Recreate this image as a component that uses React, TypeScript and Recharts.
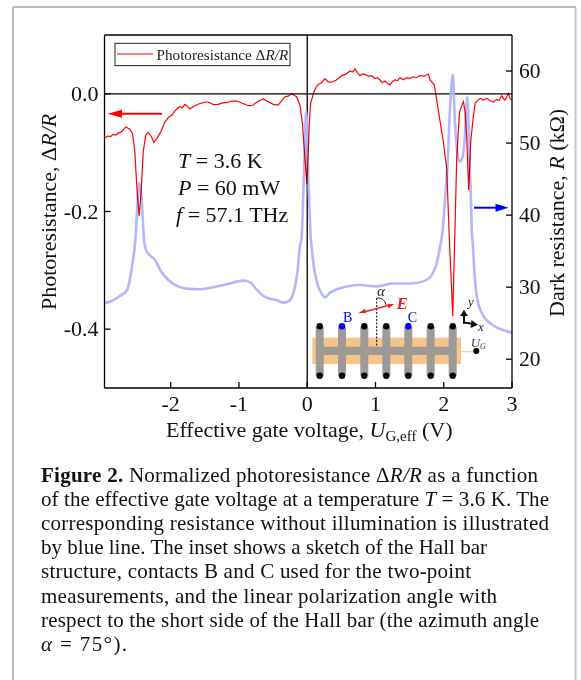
import React from "react";
import {
  LineChart,
  Line,
  XAxis,
  YAxis,
  ReferenceLine,
} from "recharts";

const redVoltage = [
  -2.976, -2.945, -2.918, -2.88, -2.844, -2.81, -2.771, -2.74, -2.707, -2.658, -2.63, -2.6, -2.56, -2.526, -2.492,
  -2.462, -2.433, -2.403, -2.365, -2.331, -2.281, -2.248, -2.2, -2.149, -2.087, -2.05, -2.023, -1.98, -1.94, -1.9,
  -1.867, -1.83, -1.793, -1.76, -1.72, -1.67, -1.622, -1.57, -1.525, -1.48, -1.427, -1.37, -1.305, -1.24, -1.182,
  -1.11, -1.035, -0.96, -0.889, -0.84, -0.791, -0.72, -0.645, -0.57, -0.498, -0.425, -0.38, -0.327, -0.28, -0.229,
  -0.156, -0.107, -0.068, -0.034, -0.004, 0.029, 0.05, 0.098, 0.13, 0.162, 0.21, 0.26, 0.3, 0.333, 0.375, 0.421,
  0.46, 0.504, 0.56, 0.626, 0.665, 0.7, 0.735, 0.773, 0.81, 0.846, 0.9, 0.944, 0.99, 1.03, 1.066, 1.1, 1.14, 1.18,
  1.213, 1.25, 1.286, 1.32, 1.36, 1.41, 1.458, 1.5, 1.555, 1.6, 1.653, 1.71, 1.775, 1.8, 1.862, 1.897, 1.935, 1.994,
  2.043, 2.078, 2.132, 2.166, 2.19, 2.229, 2.249, 2.288, 2.312, 2.337, 2.366, 2.395, 2.425, 2.459, 2.49, 2.532, 2.58,
  2.63, 2.68, 2.727, 2.77, 2.81, 2.85, 2.875, 2.898, 2.925, 2.947, 2.975, 3.0,
];

const redValue = [
  -0.0757, -0.0735, -0.0717, -0.0725, -0.0689, -0.07, -0.0672, -0.0655, -0.0633, -0.0559, -0.058, -0.0599, -0.0672,
  -0.0984, -0.1664, -0.2072, -0.1664, -0.0984, -0.07, -0.0655, -0.0729, -0.0825, -0.0757, -0.0655, -0.0485, -0.0425,
  -0.0389, -0.036, -0.0292, -0.0245, -0.0219, -0.0235, -0.0179, -0.021, -0.0258, -0.0215, -0.019, -0.0165, -0.0151,
  -0.0135, -0.0151, -0.0185, -0.0179, -0.0155, -0.0151, -0.0125, -0.0122, -0.0155, -0.019, -0.0205, -0.019, -0.0125,
  -0.0088, -0.0135, -0.0179, -0.019, -0.0125, -0.0049, -0.004, 0, -0.0049, -0.019, -0.053, -0.11, -0.154, -0.053,
  -0.016, 0.0036, 0.011, 0.016, 0.019, 0.026, 0.021, 0.0195, 0.0205, 0.023, 0.0265, 0.031, 0.033, 0.0388, 0.037,
  0.0422, 0.036, 0.031, 0.034, 0.033, 0.03, 0.031, 0.026, 0.0275, 0.0235, 0.019, 0.0218, 0.017, 0.015, 0.021, 0.0235,
  0.0225, 0.0274, 0.024, 0.0274, 0.026, 0.029, 0.0275, 0.031, 0.03, 0.0337, 0.0235, 0.015, -0.0105, -0.039, -0.0814,
  -0.1267, -0.2345, -0.378, -0.2232, -0.11, -0.033, -0.0247, -0.0134, -0.0303, -0.0757, -0.1636, -0.0814, -0.0474,
  -0.0162, -0.012, -0.0077, -0.0105, -0.0077, -0.0115, -0.0145, -0.0095, -0.0115, -0.0032, -0.0085, -0.0105, -0.0045,
  0.0008, -0.0085, -0.0105,
];

const blueVoltage = [
  -2.976, -2.868, -2.746, -2.639, -2.6, -2.56, -2.53, -2.516, -2.49, -2.462, -2.428, -2.39, -2.365, -2.331, -2.233,
  -2.135, -2.036, -1.892, -1.768, -1.573, -1.427, -1.329, -1.133, -0.934, -0.84, -0.742, -0.645, -0.547, -0.449,
  -0.349, -0.279, -0.205, -0.146, -0.107, -0.083, -0.048, -0.015, 0.02, 0.054, 0.079, 0.113, 0.162, 0.211, 0.26,
  0.333, 0.431, 0.578, 0.773, 1.018, 1.261, 1.506, 1.701, 1.824, 1.897, 1.946, 1.985, 2.019, 2.053, 2.092, 2.132,
  2.166, 2.2, 2.229, 2.278, 2.308, 2.346, 2.376, 2.395, 2.41, 2.425, 2.444, 2.484, 2.557, 2.679, 2.826, 3.0,
];

const blueResistance = [
  27.75, 28.08, 28.77, 29.6, 31.0, 33.3, 35.4, 36.8, 41.0, 44.4, 42.3, 36.5, 35.2, 34.7, 33.8, 32.1, 31.0, 30.1, 29.8,
  29.7, 29.9, 30.1, 30.5, 30.9, 30.7, 29.7, 28.8, 28.4, 28.2, 27.85, 28.0, 29.1, 31.9, 35.6, 36.8, 45.7, 54.4, 44.2,
  36.6, 34.2, 31.9, 30.1, 29.1, 28.6, 29.2, 29.7, 30.1, 30.3, 30.1, 30.5, 30.5, 30.8, 31.7, 33.3, 35.6, 37.9, 42.3,
  46.5, 54.8, 59.5, 52.5, 48.6, 47.4, 48.1, 50.7, 56.4, 47.9, 43.2, 37.9, 36.1, 32.8, 28.7, 26.4, 25.0, 24.2, 23.7,
];

const voltageTicks = [-2, -1, 0, 1, 2, 3];
const photoTicks = [0, -0.2, -0.4];
const darkTicks = [20, 30, 40, 50, 60];

const captionLines: { end: number; parts: [string, string?][] }[] = [
  { end: 538, parts: [["Figure 2.", "b"], [" Normalized photoresistance Δ"], ["R/R", "i"], [" as a function"]] },
  { end: 549, parts: [["of the effective gate voltage at a temperature "], ["T", "i"], [" = 3.6 K. The"]] },
  { end: 549, parts: [["corresponding resistance without illumination is illustrated"]] },
  { end: 487, parts: [["by blue line. The inset shows a sketch of the Hall bar"]] },
  { end: 471, parts: [["structure, contacts B and C used for the two-point"]] },
  { end: 497, parts: [["measurements, and the linear polarization angle with"]] },
  { end: 539, parts: [["respect to the short side of the Hall bar (the azimuth angle"]] },
  { end: 127, parts: [["α", "i"], [" = 75°)."]] },
];

const redTable = redVoltage.map((v, i) => ({ v, dr: redValue[i] }));
const blueTable = blueVoltage.map((v, i) => ({ v, r: blueResistance[i] }));

const serif = '"Liberation Serif", "Times New Roman", serif';
const TICK_LEN = 6;

const BottomTick = ({ x, y, payload }: any) => (
  <g>
    <line x1={x} x2={x} y1={y} y2={y - TICK_LEN} stroke="#000" strokeWidth={1.3} />
    <text x={x} y={y + 23} textAnchor="middle" fontSize={22} fontFamily={serif} fill="#111">
      {payload.value}
    </text>
  </g>
);

const LeftTick = ({ x, y, payload }: any) => (
  <g>
    <line x1={x} x2={x + TICK_LEN} y1={y} y2={y} stroke="#000" strokeWidth={1.3} />
    <text x={x - 6} y={y + 7} textAnchor="end" fontSize={22} fontFamily={serif} fill="#111">
      {payload.value.toFixed(1)}
    </text>
  </g>
);

const RightTick = ({ x, y, payload }: any) => (
  <g>
    <line x1={x} x2={x - TICK_LEN} y1={y} y2={y} stroke="#000" strokeWidth={1.3} />
    <text x={x + 7} y={y + 7} textAnchor="start" fontSize={21.5} fontFamily={serif} fill="#111">
      {payload.value}
    </text>
  </g>
);

const barXs = [319.7, 342, 364.3, 386.3, 408.3, 430.7, 452.7];

// Hall bar sketch from the paper, not data
const HallBar = () => (
  <g>
    <rect x={312.3} y={337.7} width={148.7} height={26.3} fill="#f5c48a" />
    <line x1={461} x2={476} y1={351.7} y2={351.7} stroke="#f5c48a" strokeWidth={1} />
    <rect x={316.7} y={346.7} width={136} height={8.3} fill="#9e9b96" />
    {barXs.map((x) => (
      <rect key={x} x={x - 4} y={326.7} width={8} height={49} fill="#9e9b96" />
    ))}
    {barXs.map((x, i) => (
      <g key={x}>
        <circle cx={x} cy={326.3} r={3.2} fill={i === 1 || i === 4 ? "#0000ff" : "#000"} />
        <circle cx={x} cy={375.7} r={3.2} fill="#000" />
      </g>
    ))}
    <text x={343} y={321.7} fontSize={14} fill="#0000ff" fontFamily={serif}>B</text>
    <text x={407.7} y={321.7} fontSize={14} fill="#0000ff" fontFamily={serif}>C</text>
    <line x1={376.7} x2={376.7} y1={298} y2={346.7} stroke="#000" strokeWidth={1} strokeDasharray="2 1.5" />
    <path d="M376.7 298 A8 8 0 0 1 386 305" fill="none" stroke="#222" strokeWidth={1} />
    <text x={377} y={295.7} fontSize={15} fontStyle="italic" fill="#222" fontFamily={serif}>α</text>
    <line x1={362} x2={390} y1={312.4} y2={305} stroke="#e0262a" strokeWidth={1.5} />
    <path d="M358.3 313.3 L365 308.8 L366 313 Z" fill="#e0262a" />
    <path d="M394.3 304 L387.5 303.8 L388.6 308.4 Z" fill="#e0262a" />
    <text x={396.5} y={308.7} fontSize={17} fontStyle="italic" fontWeight="bold" fill="#e0262a" fontFamily={serif}>E</text>
    <line x1={464} x2={464} y1={323.5} y2={314} stroke="#111" strokeWidth={2} />
    <path d="M464 309.8 L460 316 L468 316 Z" fill="#111" />
    <line x1={463} x2={473} y1={322.5} y2={323.8} stroke="#111" strokeWidth={2} />
    <path d="M478 324.8 L471.5 320 L470.5 328 Z" fill="#111" />
    <text x={468} y={306} fontSize={13} fontStyle="italic" fill="#222" fontFamily={serif}>y</text>
    <text x={478} y={331} fontSize={13} fontStyle="italic" fill="#222" fontFamily={serif}>x</text>
    <circle cx={476.3} cy={351} r={3} fill="#000" />
    <text x={470.7} y={346.7} fontSize={13} fontStyle="italic" fill="#444" fontFamily={serif}>
      U<tspan fontSize={8} dy={2}>G</tspan>
    </text>
  </g>
);

const Annotations = () => (
  <svg
    width={581}
    height={680}
    style={{ position: "absolute", left: 0, top: 0, pointerEvents: "none" }}
    fontFamily={serif}
  >
    {/* page frame */}
    <line x1={13} x2={13} y1={7} y2={680} stroke="#a0a0a0" strokeWidth={1.4} />
    <line x1={13} x2={576} y1={7} y2={7} stroke="#a8a8a8" strokeWidth={1.4} />
    <line x1={575.5} x2={575.5} y1={7} y2={680} stroke="#c8c8c8" strokeWidth={2} />

    {/* legend */}
    <rect x={115} y={43.3} width={175} height={22.3} fill="#fff" stroke="#222" strokeWidth={1} />
    <line x1={117} x2={153} y1={54} y2={54} stroke="#ff0000" strokeWidth={1.1} />
    <text x={156.5} y={59.5} fontSize={15.2} fill="#222">
      Photoresistance Δ<tspan fontStyle="italic">R/R</tspan>
    </text>

    {/* arrows */}
    <line x1={162} x2={118} y1={113.7} y2={113.7} stroke="#ff0000" strokeWidth={2} />
    <path d="M107.7 113.7 L122 109.7 L122 117.7 Z" fill="#ff0000" />
    <line x1={474} x2={498} y1={207.7} y2={207.7} stroke="#0000ff" strokeWidth={2} />
    <path d="M508.5 207.7 L495.5 203.7 L495.5 211.7 Z" fill="#0000ff" />

    {/* conditions */}
    <g fontSize={22} fill="#111">
      <text x={178} y={167.7}><tspan fontStyle="italic">T</tspan> = 3.6 K</text>
      <text x={178} y={195}><tspan fontStyle="italic">P</tspan> = 60 mW</text>
      <text x={176} y={222}><tspan fontStyle="italic">f</tspan> = 57.1 THz</text>
    </g>

    <HallBar />

    {/* axis titles */}
    <text x={166} y={437} fontSize={22} fill="#111">
      Effective gate voltage, <tspan fontStyle="italic">U</tspan>
      <tspan fontSize={15} dy={4}>G,eff</tspan>
      <tspan dy={-4}> (V)</tspan>
    </text>
    <text transform="translate(56 310) rotate(-90)" fontSize={22} fill="#111">
      Photoresistance, Δ<tspan fontStyle="italic">R/R</tspan>
    </text>
    <text transform="translate(564 317) rotate(-90)" fontSize={22} fill="#111">
      Dark resistance, <tspan fontStyle="italic">R</tspan> (kΩ)
    </text>

    {/* caption */}
    {captionLines.map((line, i) => (
      <text
        key={i}
        x={41}
        y={482 + i * 24.1}
        fontSize={21}
        fill="#111"
        textLength={line.end - 41}
        lengthAdjust="spacing"
      >
        {line.parts.map(([t, style], j) => (
          <tspan
            key={j}
            fontWeight={style === "b" ? "bold" : undefined}
            fontStyle={style === "i" ? "italic" : undefined}
          >
            {t}
          </tspan>
        ))}
      </text>
    ))}
  </svg>
);

export default function App() {
  return (
    <div style={{ position: "absolute", left: 0, top: 0, width: 581, height: 680, background: "#fff" }}>
      <LineChart
        width={581}
        height={680}
        margin={{ top: 35, right: 0, bottom: 0, left: 0 }}
      >
        <XAxis
          type="number"
          dataKey="v"
          domain={[-2.97, 3]}
          ticks={voltageTicks}
          allowDataOverflow
          height={292}
          stroke="#000"
          strokeWidth={1.3}
          tickLine={false}
          tickSize={0}
          tickMargin={0}
          tick={<BottomTick />}
          interval={0}
        />
        <YAxis
          yAxisId="left"
          orientation="left"
          type="number"
          domain={[-0.5, 0.1]}
          ticks={photoTicks}
          allowDataOverflow
          width={104.5}
          stroke="#000"
          strokeWidth={1.3}
          tickLine={false}
          tickSize={0}
          tickMargin={0}
          tick={<LeftTick />}
          interval={0}
        />
        <YAxis
          yAxisId="right"
          orientation="right"
          type="number"
          domain={[16, 65]}
          ticks={darkTicks}
          allowDataOverflow
          width={69}
          stroke="#000"
          strokeWidth={1.3}
          tickLine={false}
          tickSize={0}
          tickMargin={0}
          tick={<RightTick />}
          interval={0}
        />
        <ReferenceLine yAxisId="left" y={0.1} stroke="#000" strokeWidth={1.3} />
        <ReferenceLine yAxisId="left" y={0} stroke="#000" strokeWidth={1.3} />
        <ReferenceLine yAxisId="left" x={0} stroke="#000" strokeWidth={1.3} />
        <Line
          yAxisId="right"
          data={blueTable}
          dataKey="r"
          type="monotone"
          stroke="#b6b6ff"
          strokeWidth={2.6}
          dot={false}
          isAnimationActive={false}
        />
        <Line
          yAxisId="left"
          data={redTable}
          dataKey="dr"
          type="linear"
          stroke="#ff0000"
          strokeWidth={1.2}
          dot={false}
          isAnimationActive={false}
          style={{ mixBlendMode: "multiply" }}
        />
      </LineChart>
      <Annotations />
    </div>
  );
}
